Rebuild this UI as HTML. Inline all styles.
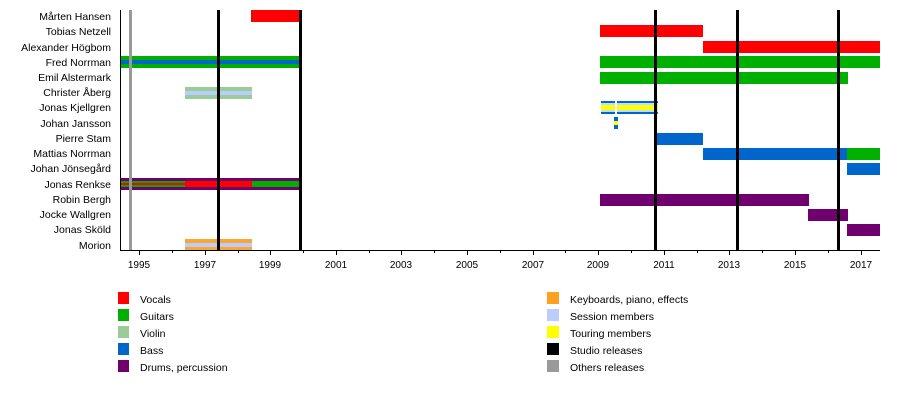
<!DOCTYPE html>
<html><head><meta charset="utf-8"><style>
body{margin:0;background:#fff;}
svg{display:block;font-family:"Liberation Sans",sans-serif;}
</style></head><body>
<svg width="900" height="400" viewBox="0 0 900 400">
<g font-size="10.5" text-anchor="end" fill="#000">
<text x="111" y="20">Mårten Hansen</text>
<text x="111" y="35">Tobias Netzell</text>
<text x="111" y="51">Alexander Högbom</text>
<text x="111" y="66">Fred Norrman</text>
<text x="111" y="81">Emil Alstermark</text>
<text x="111" y="96">Christer Åberg</text>
<text x="111" y="111">Jonas Kjellgren</text>
<text x="111" y="127">Johan Jansson</text>
<text x="111" y="142">Pierre Stam</text>
<text x="111" y="157">Mattias Norrman</text>
<text x="111" y="172">Johan Jönsegård</text>
<text x="111" y="188">Jonas Renkse</text>
<text x="111" y="203">Robin Bergh</text>
<text x="111" y="218">Jocke Wallgren</text>
<text x="111" y="233">Jonas Sköld</text>
<text x="111" y="249">Morion</text>
</g>
<rect x="251" y="10" width="50" height="12" fill="#ff0000"/>
<rect x="600" y="25" width="103" height="12" fill="#ff0000"/>
<rect x="703" y="41" width="177" height="12" fill="#ff0000"/>
<rect x="120" y="56" width="181" height="12" fill="#00b000"/>
<rect x="120" y="60" width="181" height="4" fill="#0066cc"/>
<rect x="600" y="56" width="280" height="12" fill="#00b000"/>
<rect x="600" y="72" width="248" height="12" fill="#00b000"/>
<rect x="185" y="87" width="67" height="12" fill="#99cc99"/>
<rect x="185" y="91" width="67" height="4" fill="#bbccff"/>
<rect x="601" y="101" width="57" height="13" fill="#0066cc"/>
<rect x="601" y="103" width="57" height="9" fill="#bbddff"/>
<rect x="601" y="105" width="57" height="5" fill="#ffff00"/>
<rect x="615" y="101" width="2" height="13" fill="#fff"/>
<rect x="614" y="117" width="4" height="12" fill="#0066cc"/>
<rect x="614" y="121" width="4" height="4" fill="#ffff00"/>
<rect x="656" y="133" width="47" height="12" fill="#0066cc"/>
<rect x="703" y="148" width="144" height="12" fill="#0066cc"/>
<rect x="847" y="148" width="33" height="12" fill="#00b000"/>
<rect x="847" y="163" width="33" height="12" fill="#0066cc"/>
<rect x="120" y="178" width="181" height="12" fill="#700070"/>
<rect x="120" y="181" width="65" height="6" fill="#00b000"/>
<rect x="120" y="183" width="65" height="2" fill="#ff0000"/>
<rect x="185" y="181" width="67" height="6" fill="#ff0000"/>
<rect x="252" y="181" width="49" height="6" fill="#00b000"/>
<rect x="600" y="194" width="209" height="12" fill="#700070"/>
<rect x="808" y="209" width="40" height="12" fill="#700070"/>
<rect x="847" y="224" width="33" height="12" fill="#700070"/>
<rect x="185" y="239" width="67" height="12" fill="#f8a830"/>
<rect x="185" y="243" width="67" height="4" fill="#bbccff"/>
<rect x="129" y="10" width="3" height="240" fill="#999"/>
<g fill="#000">
<rect x="217" y="10" width="3" height="240"/>
<rect x="299" y="10" width="3" height="240"/>
<rect x="654" y="10" width="3" height="240"/>
<rect x="736" y="10" width="3" height="240"/>
<rect x="837" y="10" width="3" height="240"/>
</g>
<line x1="120.5" y1="10" x2="120.5" y2="250" stroke="#000"/>
<line x1="120" y1="250.5" x2="880" y2="250.5" stroke="#000"/>
<g stroke="#000">
<line x1="139.5" y1="250" x2="139.5" y2="255"/><line x1="172.5" y1="250" x2="172.5" y2="253"/>
<line x1="205.5" y1="250" x2="205.5" y2="255"/><line x1="238.5" y1="250" x2="238.5" y2="253"/>
<line x1="270.5" y1="250" x2="270.5" y2="255"/><line x1="303.5" y1="250" x2="303.5" y2="253"/>
<line x1="336.5" y1="250" x2="336.5" y2="255"/><line x1="369.5" y1="250" x2="369.5" y2="253"/>
<line x1="401.5" y1="250" x2="401.5" y2="255"/><line x1="434.5" y1="250" x2="434.5" y2="253"/>
<line x1="467.5" y1="250" x2="467.5" y2="255"/><line x1="500.5" y1="250" x2="500.5" y2="253"/>
<line x1="533.5" y1="250" x2="533.5" y2="255"/><line x1="565.5" y1="250" x2="565.5" y2="253"/>
<line x1="598.5" y1="250" x2="598.5" y2="255"/><line x1="631.5" y1="250" x2="631.5" y2="253"/>
<line x1="664.5" y1="250" x2="664.5" y2="255"/><line x1="697.5" y1="250" x2="697.5" y2="253"/>
<line x1="729.5" y1="250" x2="729.5" y2="255"/><line x1="762.5" y1="250" x2="762.5" y2="253"/>
<line x1="795.5" y1="250" x2="795.5" y2="255"/><line x1="828.5" y1="250" x2="828.5" y2="253"/>
<line x1="861.5" y1="250" x2="861.5" y2="255"/>
</g>
<g font-size="10" text-anchor="middle">
<text x="139" y="268">1995</text><text x="205" y="268">1997</text><text x="270" y="268">1999</text>
<text x="336" y="268">2001</text><text x="401" y="268">2003</text><text x="467" y="268">2005</text>
<text x="533" y="268">2007</text><text x="598" y="268">2009</text><text x="664" y="268">2011</text>
<text x="729" y="268">2013</text><text x="795" y="268">2015</text><text x="861" y="268">2017</text>
</g>
<g font-size="10.5">
<rect x="118" y="292" width="11" height="12" fill="#ff0000"/><text x="140" y="303">Vocals</text>
<rect x="118" y="309" width="11" height="12" fill="#00b000"/><text x="140" y="320">Guitars</text>
<rect x="118" y="326" width="11" height="12" fill="#99cc99"/><text x="140" y="337">Violin</text>
<rect x="118" y="343" width="11" height="12" fill="#0066cc"/><text x="140" y="354">Bass</text>
<rect x="118" y="360" width="11" height="12" fill="#700070"/><text x="140" y="371">Drums, percussion</text>
<rect x="547" y="292" width="12" height="12" fill="#ffa020"/><text x="570" y="303">Keyboards, piano, effects</text>
<rect x="547" y="309" width="12" height="12" fill="#bbccff"/><text x="570" y="320">Session members</text>
<rect x="547" y="326" width="12" height="12" fill="#ffff00"/><text x="570" y="337">Touring members</text>
<rect x="547" y="343" width="12" height="12" fill="#000"/><text x="570" y="354">Studio releases</text>
<rect x="547" y="360" width="12" height="12" fill="#999"/><text x="570" y="371">Others releases</text>
</g>
</svg>
</body></html>
